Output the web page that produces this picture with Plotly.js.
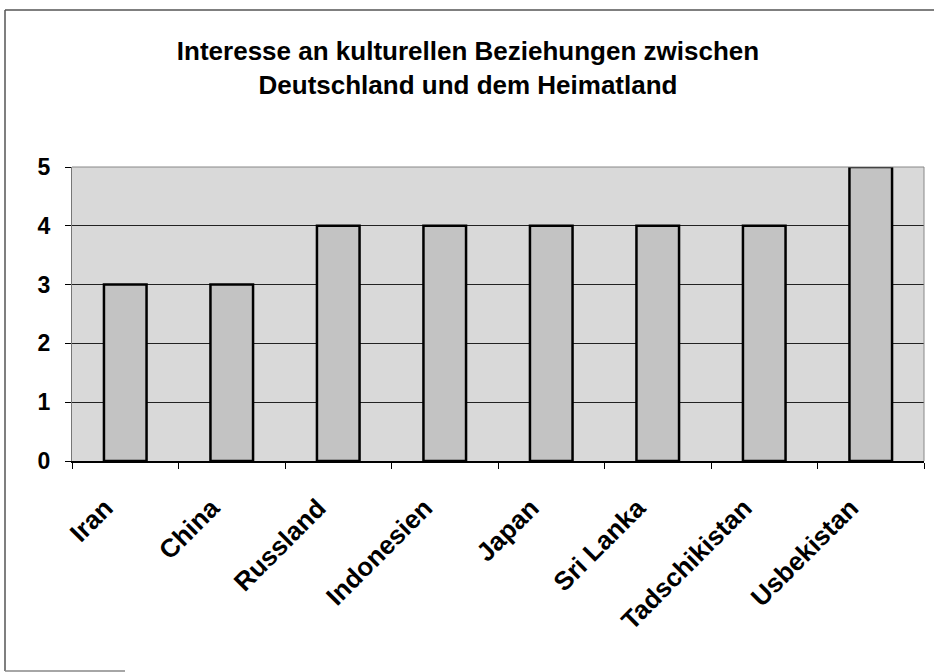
<!DOCTYPE html>
<html>
<head>
<meta charset="utf-8">
<script src="https://cdn.plot.ly/plotly-3.0.1.min.js"></script>
<style>
html,body{margin:0;padding:0;background:#fff;}
#chart{width:936px;height:672px;}
</style>
</head>
<body>
<div id="chart"></div>
<script>
var countries = ["Iran", "China", "Russland", "Indonesien", "Japan", "Sri Lanka", "Tadschikistan", "Usbekistan"];
var interest = [3, 3, 4, 4, 4, 4, 4, 5];
var yTicks = [0, 1, 2, 3, 4, 5];
var titleLines = ["Interesse an kulturellen Beziehungen zwischen", "Deutschland und dem Heimatland"];

var W = 936, H = 672;
var m = {l: 72, r: 12, t: 167, b: 211};
var pw = W - m.l - m.r, ph = H - m.t - m.b;
function px(x){ return (x - m.l) / pw; }
function py(y){ return (H - m.b - y) / ph; }

var trace = {
  type: 'bar',
  x: countries,
  y: interest,
  width: 0.4,
  marker: {color: '#c3c3c3', line: {color: '#000', width: 2.5}},
  hoverinfo: 'x+y'
};

var borderStyle = {color: '#555', width: 1.5};
var layout = {
  width: W, height: H,
  margin: m,
  paper_bgcolor: '#ffffff',
  plot_bgcolor: '#d9d9d9',
  showlegend: false,
  bargap: 0.6,
  font: {family: 'Liberation Sans, Arial, sans-serif', color: '#000'},
  title: {
    text: titleLines.join('<br>'),
    font: {size: 26, family: 'Liberation Sans, Arial, sans-serif', weight: 'bold', color: '#000'},
    x: 0.5, xref: 'container', xanchor: 'center',
    y: 1 - 60 / H, yanchor: 'middle'
  },
  xaxis: {
    type: 'category',
    tickangle: -45,
    tickfont: {size: 26, weight: 'bold'},
    ticks: 'outside', ticklen: 6, tickcolor: '#000', tickwidth: 1,
    tickson: 'boundaries',
    ticklabelstandoff: 20,
    ticklabelshift: -20,
    showline: true, linecolor: '#000', linewidth: 1.5,
    showgrid: false,
    zeroline: false,
    fixedrange: true
  },
  yaxis: {
    range: [0, 5],
    tickvals: yTicks,
    ticktext: yTicks.map(String),
    tickfont: {size: 23, weight: 'bold'},
    ticks: 'outside', ticklen: 6, tickcolor: '#000', tickwidth: 1,
    ticklabelstandoff: 10,
    showline: true, linecolor: '#777', linewidth: 1,
    showgrid: true, gridcolor: '#222', gridwidth: 1,
    zeroline: false,
    mirror: false,
    fixedrange: true
  },
  shapes: [
    {type: 'line', xref: 'paper', yref: 'paper', x0: px(5), x1: px(934), y0: py(10), y1: py(10), line: borderStyle},
    {type: 'line', xref: 'paper', yref: 'paper', x0: px(5), x1: px(5), y0: py(10), y1: py(671), line: borderStyle},
    {type: 'line', xref: 'paper', yref: 'paper', x0: px(5), x1: px(125), y0: py(671), y1: py(671), line: {color: '#888', width: 1.5}},
    {type: 'line', xref: 'paper', yref: 'paper', x0: 1, x1: 1, y0: 0, y1: 1, line: {color: '#888', width: 1}},
    {type: 'line', xref: 'paper', yref: 'paper', x0: 0, x1: 1, y0: 1, y1: 1, line: {color: '#888', width: 1}}
  ]
};

Plotly.newPlot('chart', [trace], layout, {displayModeBar: false, staticPlot: true});
</script>
</body>
</html>
